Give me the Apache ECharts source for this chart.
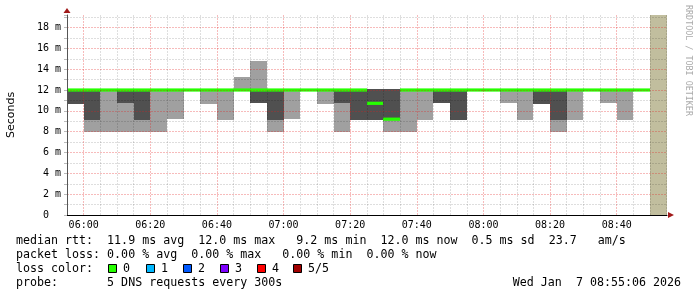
<!DOCTYPE html>
<html><head><meta charset="utf-8">
<script src="https://cdn.jsdelivr.net/npm/echarts@6/dist/echarts.min.js"></script>
<style>html,body{margin:0;padding:0;background:#fff}#c{width:697px;height:297px}</style>
</head><body><div id="c"></div>
<script>
// ---- data (5-minute steps, label = end of step) ----
const stepEnds = ['06:00','06:05','06:10','06:15','06:20','06:25','06:30','06:35','06:40','06:45','06:50','06:55',
  '07:00','07:05','07:10','07:15','07:20','07:25','07:30','07:35','07:40','07:45','07:50','07:55',
  '08:00','08:05','08:10','08:15','08:20','08:25','08:30','08:35','08:40','08:45','08:50','08:55'];
// sorted pings per step, in ms (null = unknown)
const ping1 = [10.65,8.0,8.0,8.0,8.0,8.0,9.25,12.0,10.65,9.12,12.0,10.78,8.0,9.25,12.0,10.65,8.0,9.12,9.12,8.0,8.0,9.12,10.78,9.12,12.0,12.0,10.78,9.12,10.65,8.0,9.12,12.0,10.78,9.12,12.0,null];
const ping2 = [10.65,9.12,12.0,10.78,9.12,12.0,12.0,12.0,12.0,12.0,12.0,10.78,9.12,12.0,12.0,12.0,10.78,9.12,9.12,9.2,12.0,12.0,10.78,9.12,12.0,12.0,12.0,12.0,10.65,9.12,12.0,12.0,12.0,12.0,12.0,null];
const median = [12.0,12.0,12.0,12.0,12.0,12.0,12.0,12.0,12.0,12.0,12.0,12.0,12.0,12.0,12.0,12.0,12.0,12.0,10.72,9.2,12.0,12.0,12.0,12.0,12.0,12.0,12.0,12.0,12.0,12.0,12.0,12.0,12.0,12.0,12.0,null];
const ping4 = [12.0,12.0,12.0,12.0,12.0,12.0,12.0,12.0,12.0,12.0,12.0,12.0,12.0,12.0,12.0,12.0,12.0,12.0,12.05,12.05,12.0,12.0,12.0,12.0,12.0,12.0,12.0,12.0,12.0,12.0,12.0,12.0,12.0,12.0,12.0,null];
const ping5 = [12.0,12.0,12.0,12.0,12.0,12.0,12.0,12.0,12.0,12.0,13.25,14.78,12.0,12.0,12.0,12.0,12.0,12.0,12.05,12.05,12.0,12.0,12.0,12.0,12.0,12.0,12.0,12.0,12.0,12.0,12.0,12.0,12.0,12.0,12.0,null];

const xTickLabels = ['06:00','06:20','06:40','07:00','07:20','07:40','08:00','08:20','08:40'];
const yTickValues = [0,2,4,6,8,10,12,14,16,18];
const yTickLabels = [' 0  ',' 2 m',' 4 m',' 6 m',' 8 m','10 m','12 m','14 m','16 m','18 m'];

const lossLabels = ['0','1','2','3','4','5/5'];
const lossColors = ['#26ff00','#00b8ff','#0059ff','#7e00ff','#ff0000','#a10000'];

const legendLines = [
  'median rtt:  11.9 ms avg  12.0 ms max   9.2 ms min  12.0 ms now  0.5 ms sd  23.7   am/s',
  'packet loss: 0.00 % avg  0.00 % max   0.00 % min  0.00 % now',
  'loss color:',
  'probe:       5 DNS requests every 300s'
];
const dateText = 'Wed Jan  7 08:55:06 2026';
const yTitle = 'Seconds';
const watermark = 'RRDTOOL / TOBI OETIKER';

// ---- helpers ----
const toMin = s => { const p = s.split(':').map(Number); return p[0]*60 + p[1] + (p[2]||0)/60; };
const graphStart = toMin('05:55:06');
const graphEnd = toMin('08:55:06');
const axisMin = 355; // multiple of tick interval
const stepLen = 5;

const known = [], unknown = [];
stepEnds.forEach((t, i) => {
  if (median[i] == null) unknown.push([toMin(t)]);
  else known.push([toMin(t), ping1[i], ping2[i], median[i], ping4[i], ping5[i]]);
});

const LIGHT = '#a0a0a0', DARK = '#505050', MED = '#26ff00', UNK = '#c1be9e';

function renderSmoke(params, api) {
  const end = api.value(0);
  const start = Math.max(end - stepLen, graphStart);
  const xs = Math.round(api.coord([start, 0])[0]);
  const xe = Math.round(api.coord([end, 0])[0]);
  const Y = v => Math.round(api.coord([end, v])[1]);
  const rect = (lo, hi, color) => ({
    type: 'rect', shape: { x: xs, y: Y(hi), width: xe - xs, height: Math.max(0, Y(lo) - Y(hi)) },
    style: { fill: color }
  });
  const m = api.coord([end, api.value(3)])[1];
  return { type: 'group', children: [
    rect(api.value(1), api.value(5), LIGHT),
    rect(api.value(2), api.value(4), DARK),
    { type: 'rect', shape: { x: xs, y: m - 1.6, width: xe - xs, height: 3.2 }, style: { fill: MED } }
  ]};
}
function renderUnknown(params, api) {
  const end = Math.min(api.value(0), graphEnd);
  const start = Math.max(end - stepLen, graphStart);
  const p0 = api.coord([start, 19.2]);
  const p1 = api.coord([end, 0]);
  return { type: 'rect', shape: { x: Math.round(p0[0]), y: p0[1], width: Math.round(p1[0]) - Math.round(p0[0]), height: p1[1] - p0[1] },
    style: { fill: UNK } };
}

const MONO = 'DejaVu Sans Mono';
const gridMinor = 'rgba(0,0,0,0.13)';
const gridMajor = 'rgba(230,30,30,0.30)';

const chart = echarts.init(document.getElementById('c'), null, { renderer: 'canvas' });

const graphics = [];
// axis arrows
graphics.push({ type: 'polygon', shape: { points: [[63.5,13],[67,8],[70.5,13]] }, style: { fill: '#a11a1a' }, z: 100 });
graphics.push({ type: 'polygon', shape: { points: [[668,212],[674,215],[668,218]] }, style: { fill: '#a11a1a' }, z: 100 });
// legend lines
const FONT = '11.65px "' + MONO + '"';
const lineY = [241, 255, 269, 283];
legendLines.forEach((s, i) => graphics.push({ type: 'text', x: 16, y: lineY[i],
  style: { text: s, font: FONT, fill: '#000', verticalAlign: 'middle', textAlign: 'left' }, z: 100 }));
graphics.push({ type: 'text', x: 681, y: lineY[3],
  style: { text: dateText, font: FONT, fill: '#000', verticalAlign: 'middle', textAlign: 'right' }, z: 100 });
// loss color boxes
const boxX = [108, 146, 183, 220, 257, 293];
lossLabels.forEach((l, i) => {
  graphics.push({ type: 'rect', shape: { x: boxX[i] + 0.5, y: 264.5, width: 8, height: 8 },
    style: { fill: lossColors[i], stroke: '#000', lineWidth: 1 }, z: 100 });
  graphics.push({ type: 'text', x: boxX[i] + 15, y: lineY[2],
    style: { text: l, font: FONT, fill: '#000', verticalAlign: 'middle', textAlign: 'left' }, z: 100 });
});
// watermark
graphics.push({ type: 'text', x: 688, y: 5, rotation: -Math.PI / 2,
  style: { text: watermark, font: '8.4px "' + MONO + '"', fill: '#aaaaaa', verticalAlign: 'middle', textAlign: 'left' }, z: 100 });

chart.setOption({
  animation: false,
  backgroundColor: '#ffffff',
  grid: { left: 67, right: 30, top: 15, bottom: 82, containLabel: false, outerBoundsMode: 'none' },
  xAxis: {
    type: 'value', min: axisMin, max: graphEnd, interval: 5, z: 5,
    axisLine: { show: true, lineStyle: { color: '#000', width: 1 } },
    axisTick: { show: false },
    axisLabel: {
      margin: 5, fontFamily: MONO, fontSize: 10, color: '#000',
      showMinLabel: true, showMaxLabel: true,
      formatter: v => {
        const r = Math.round(v);
        if (Math.abs(v - r) > 1e-6) return '';
        const lbl = xTickLabels.find(t => toMin(t) === r);
        return lbl || '';
      }
    },
    splitLine: { show: true, showMaxLine: false,
      lineStyle: { color: [gridMinor, gridMajor, gridMinor, gridMinor], type: [2, 1], width: 1 } }
  },
  yAxis: {
    type: 'value', min: 0, max: 19.2, interval: 1, z: 5,
    name: yTitle, nameLocation: 'middle', nameGap: 50, nameRotate: 90,
    nameTextStyle: { fontFamily: 'DejaVu Sans', fontSize: 11, color: '#000' },
    axisLine: { show: true, lineStyle: { color: '#555', width: 1 } },
    axisTick: { show: true, length: 3, lineStyle: { color: '#bbb' } },
    axisLabel: {
      margin: 6, fontFamily: MONO, fontSize: 10, color: '#000', align: 'right',
      formatter: v => {
        const idx = yTickValues.findIndex(t => Math.abs(t - v) < 1e-6);
        return idx >= 0 ? yTickLabels[idx].replace(/  $/, '\u00a0\u00a0') : '';
      }
    },
    splitLine: { show: true, showMaxLine: false,
      lineStyle: { color: [gridMajor, gridMinor], type: [2, 1], width: 1 } }
  },
  series: [
    { type: 'custom', name: 'smoke', renderItem: renderSmoke, data: known, encode: { x: 0, y: [1,2,3,4,5] }, z: 2, clip: true },
    { type: 'custom', name: 'unknown', renderItem: renderUnknown, data: unknown, encode: { x: 0 }, z: 2, clip: true }
  ],
  graphic: graphics
});
</script>
</body></html>
